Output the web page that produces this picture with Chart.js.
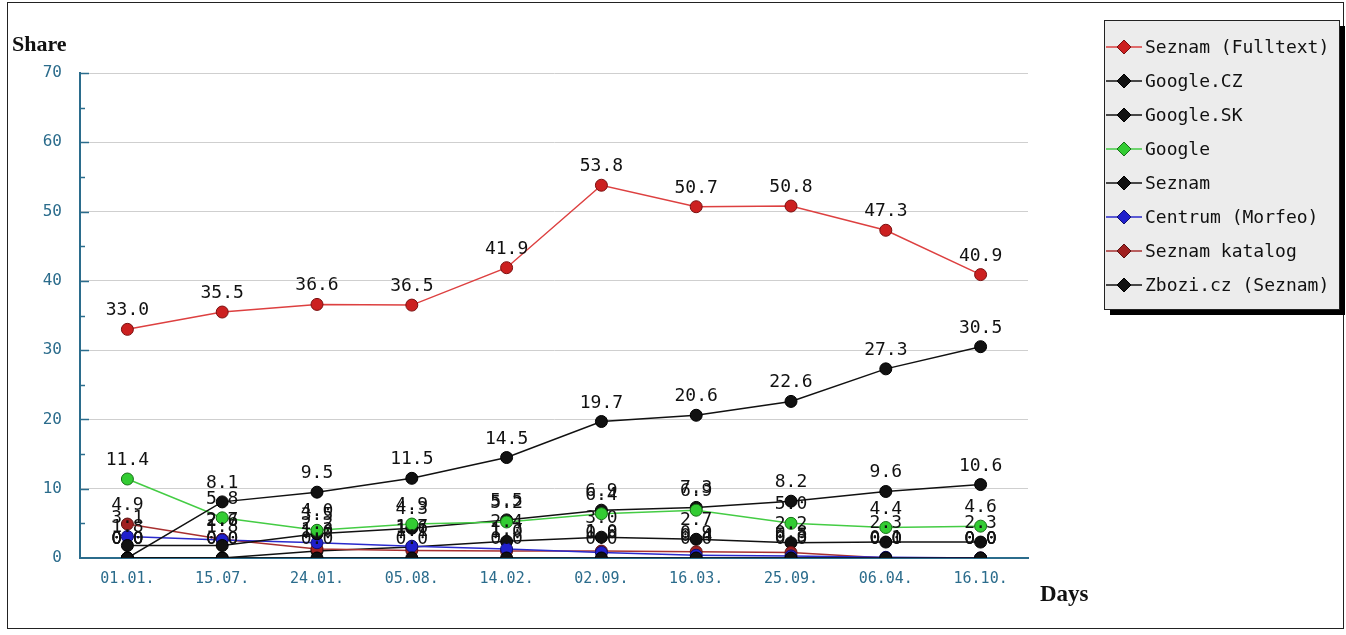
<!DOCTYPE html>
<html>
<head>
<meta charset="utf-8">
<script src="https://cdn.jsdelivr.net/npm/chart.js@4"></script>
<style>
  html, body { margin: 0; padding: 0; background: #fff; }
  #wrap { width: 1346px; height: 635px; position: relative; }
</style>
</head>
<body>
<div id="wrap"><canvas id="shareChart" width="1346" height="635"></canvas></div>
<script>
// Data
const days = ["01.01.", "15.07.", "24.01.", "05.08.", "14.02.", "02.09.", "16.03.", "25.09.", "06.04.", "16.10."];
const seznamFulltext = [33.0, 35.5, 36.6, 36.5, 41.9, 53.8, 50.7, 50.8, 47.3, 40.9];
const googleCz = [0.0, 8.1, 9.5, 11.5, 14.5, 19.7, 20.6, 22.6, 27.3, 30.5];
const googleSk = [0.0, 0.0, 0.0, 0.0, 0.0, 0.0, 0.0, 0.0, 0.0, 0.0];
const google = [11.4, 5.8, 4.0, 4.9, 5.2, 6.4, 6.9, 5.0, 4.4, 4.6];
const seznam = [1.8, 1.8, 3.5, 4.3, 5.5, 6.9, 7.3, 8.2, 9.6, 10.6];
const centrum = [3.1, 2.6, 2.2, 1.7, 1.3, 0.8, 0.4, 0.3, 0.1, 0.0];
const seznamKatalog = [4.9, 2.7, 1.3, 1.1, 1.0, 1.0, 0.9, 0.8, 0.0, 0.0];
const zbozi = [0.0, 0.0, 1.0, 1.6, 2.4, 3.0, 2.7, 2.2, 2.3, 2.3];
const yTicks = [0, 10, 20, 30, 40, 50, 60, 70];

const mono = '"DejaVu Sans Mono", monospace';
const axisBlue = "#2b6c8c";

function series(label, data, line, fill, edge) {
  return {
    label, data,
    borderColor: line,
    backgroundColor: fill,
    pointBackgroundColor: fill,
    pointBorderColor: edge,
    pointBorderWidth: 1,
    pointRadius: 6,
    borderWidth: 1.5,
    tension: 0
  };
}

// value labels above every point
const valueLabels = {
  id: "valueLabels",
  afterDatasetsDraw(chart) {
    const ctx = chart.ctx;
    ctx.save();
    ctx.font = "18px " + mono;
    ctx.fillStyle = "#111";
    ctx.textAlign = "center";
    ctx.textBaseline = "alphabetic";
    chart.data.datasets.forEach((ds, di) => {
      chart.getDatasetMeta(di).data.forEach((pt, i) => {
        ctx.fillText(ds.data[i].toFixed(1), pt.x, pt.y - 14);
      });
    });
    ctx.restore();
  }
};

// frame, axis titles, small ticks and boxed legend
const decor = {
  id: "decor",
  afterDraw(chart) {
    const ctx = chart.ctx;
    const area = chart.chartArea;
    const y = chart.scales.y;
    ctx.save();

    // tick marks inside the axis
    ctx.strokeStyle = axisBlue;
    ctx.lineWidth = 1.5;
    for (let v = 5; v <= 70; v += 5) {
      const py = Math.round(y.getPixelForValue(v)) + 0.5;
      ctx.beginPath();
      ctx.moveTo(area.left, py);
      ctx.lineTo(area.left + (v % 10 === 0 ? 9 : 5), py);
      ctx.stroke();
    }

    // outer frame
    ctx.strokeStyle = "#222";
    ctx.lineWidth = 1;
    ctx.strokeRect(7.5, 2.5, 1336, 626);

    // axis titles
    ctx.fillStyle = "#111";
    ctx.font = 'bold 22px "Liberation Serif", serif';
    ctx.textAlign = "left";
    ctx.textBaseline = "alphabetic";
    ctx.fillText("Share", 12, 51);
    ctx.font = 'bold 23px "Liberation Serif", serif';
    ctx.fillText("Days", 1040, 601);

    // legend box with shadow
    const bx = 1104, by = 20, bw = 235, bh = 289;
    ctx.fillStyle = "#000";
    ctx.fillRect(bx + 6, by + 6, bw, bh);
    ctx.fillStyle = "#ececec";
    ctx.fillRect(bx, by, bw, bh);
    ctx.strokeStyle = "#222";
    ctx.strokeRect(bx + 0.5, by + 0.5, bw, bh);

    ctx.font = "18px " + mono;
    ctx.textBaseline = "middle";
    chart.data.datasets.forEach((ds, i) => {
      const ly = 47 + 34 * i;
      ctx.strokeStyle = ds.borderColor;
      ctx.lineWidth = 1.5;
      ctx.beginPath();
      ctx.moveTo(bx + 2, ly);
      ctx.lineTo(bx + 38, ly);
      ctx.stroke();
      ctx.beginPath();
      ctx.moveTo(bx + 20, ly - 7);
      ctx.lineTo(bx + 27, ly);
      ctx.lineTo(bx + 20, ly + 7);
      ctx.lineTo(bx + 13, ly);
      ctx.closePath();
      ctx.fillStyle = ds.pointBackgroundColor;
      ctx.fill();
      ctx.strokeStyle = ds.pointBorderColor;
      ctx.lineWidth = 1;
      ctx.stroke();
      ctx.fillStyle = "#111";
      ctx.fillText(ds.label, bx + 41, ly + 1);
    });
    ctx.restore();
  }
};

new Chart(document.getElementById("shareChart"), {
  type: "line",
  data: {
    labels: days,
    datasets: [
      series("Seznam (Fulltext)", seznamFulltext, "#dd4040", "#cc2020", "#7a1010"),
      series("Google.CZ", googleCz, "#111", "#111", "#000"),
      series("Google.SK", googleSk, "#111", "#111", "#000"),
      series("Google", google, "#44cc44", "#33cc33", "#167016"),
      series("Seznam", seznam, "#111", "#111", "#000"),
      series("Centrum (Morfeo)", centrum, "#2a2acc", "#2020cc", "#101070"),
      series("Seznam katalog", seznamKatalog, "#a83030", "#a02020", "#5a1010"),
      series("Zbozi.cz (Seznam)", zbozi, "#111", "#111", "#000")
    ]
  },
  options: {
    responsive: false,
    animation: false,
    layout: { padding: { top: 73, right: 318, bottom: 0, left: 0 } },
    plugins: { legend: { display: false }, tooltip: { enabled: false } },
    scales: {
      x: {
        offset: true,
        grid: { display: false, drawTicks: false },
        border: { color: axisBlue, width: 2 },
        ticks: { color: axisBlue, font: { family: mono, size: 15 }, padding: 12, maxRotation: 0 },
        afterFit(scale) { scale.height = 77; }
      },
      y: {
        min: 0,
        max: 70,
        afterBuildTicks(scale) { scale.ticks = yTicks.map(v => ({ value: v })); },
        grid: { color: "#cfcfcf", lineWidth: 1, drawTicks: false },
        border: { color: axisBlue, width: 2 },
        ticks: { color: axisBlue, font: { family: mono, size: 16 }, padding: 18 },
        afterFit(scale) { scale.width = 80; }
      }
    }
  },
  plugins: [valueLabels, decor]
});
</script>
</body>
</html>
